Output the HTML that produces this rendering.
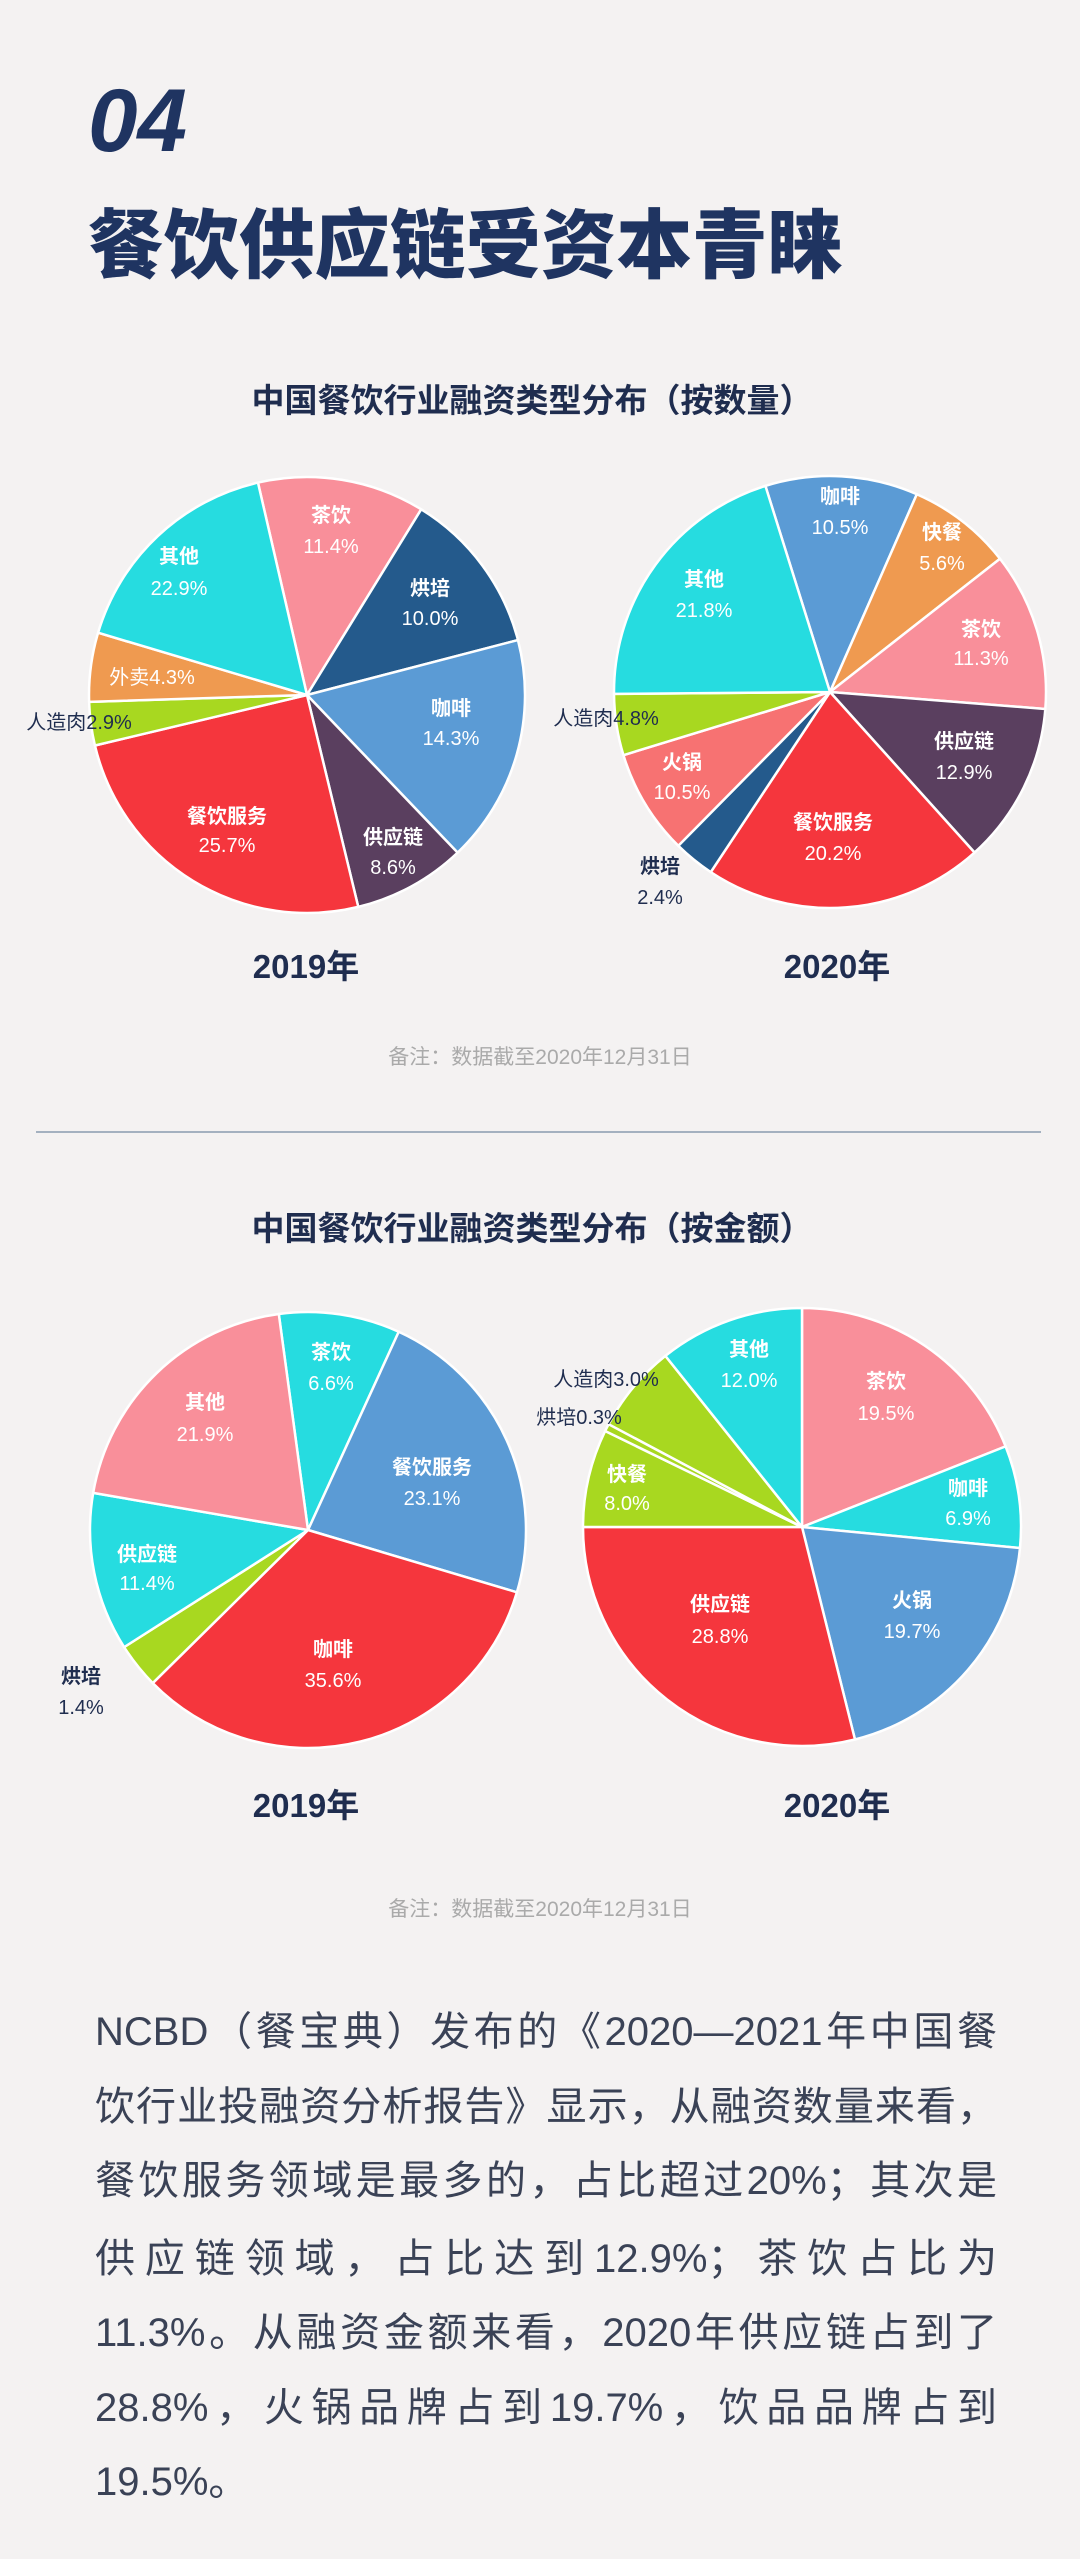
<!DOCTYPE html>
<html><head><meta charset="utf-8"><style>
html,body{margin:0;padding:0;background:#f4f2f2;}
body{width:1080px;height:2559px;position:relative;overflow:hidden;font-family:"Liberation Sans","Noto Sans CJK SC",sans-serif;}
.abs{position:absolute;}
.p{position:absolute;left:95px;width:902px;font-size:40px;color:#3a4256;text-align:justify;text-align-last:justify;white-space:nowrap;line-height:50px;}
</style></head><body>
<div class="abs" style="left:88px;top:72px;font-size:89px;font-weight:bold;font-style:italic;color:#1f3461;line-height:96px;">04</div>
<div class="abs" style="left:88px;top:200px;font-size:75.5px;font-weight:900;color:#1f3461;line-height:92px;white-space:nowrap;">餐饮供应链受资本青睐</div>
<svg class="abs" style="left:0;top:0" width="1080" height="2559" id="svg" font-family="Liberation Sans, Noto Sans CJK SC, sans-serif">
<g id="pies"></g>
<g font-weight="bold" fill="#1f2d4f" text-anchor="middle">
<text x="532" y="412" font-size="33">中国餐饮行业融资类型分布（按数量）</text>
<text x="532" y="1240" font-size="33">中国餐饮行业融资类型分布（按金额）</text>
<text x="306" y="978" font-size="33">2019年</text>
<text x="837" y="978" font-size="33">2020年</text>
<text x="306" y="1817" font-size="33">2019年</text>
<text x="837" y="1817" font-size="33">2020年</text>
</g>
<g fill="#aaaaaa" font-size="21" text-anchor="middle">
<text x="540" y="1064">备注：数据截至2020年12月31日</text>
<text x="540" y="1916">备注：数据截至2020年12月31日</text>
</g>
<line x1="36" y1="1132" x2="1041" y2="1132" stroke="#8a9bb0" stroke-width="1.5"/>
<g id="labels" font-size="20" text-anchor="middle" dominant-baseline="central"></g>
</svg>
<div class="p" style="top:2007px">NCBD（餐宝典）发布的《2020—2021年中国餐</div>
<div class="p" style="top:2082px">饮行业投融资分析报告》显示，从融资数量来看，</div>
<div class="p" style="top:2156px">餐饮服务领域是最多的，占比超过20%；其次是</div>
<div class="p" style="top:2234px">供应链领域，占比达到12.9%；茶饮占比为</div>
<div class="p" style="top:2308px">11.3%。从融资金额来看，2020年供应链占到了</div>
<div class="p" style="top:2383px">28.8%，火锅品牌占到19.7%，饮品品牌占到</div>
<div class="p" style="top:2457px;text-align-last:left">19.5%。</div>
<script>
var C={pink:"#f98f9a",dblue:"#245a8c",blue:"#5b9bd5",purple:"#5a3f5f",red:"#f5363d",green:"#a8d820",orange:"#ef9a50",cyan:"#26dce0",salmon:"#f77272"};
// data: [endAngle,color]
function pie(cx,cy,r,start,data){
  var a=start,s="";
  data.forEach(function(d){
    var b=d[0];
    var r1=(a-90)*Math.PI/180,r2=(b-90)*Math.PI/180;
    var x1=cx+r*Math.cos(r1),y1=cy+r*Math.sin(r1),x2=cx+r*Math.cos(r2),y2=cy+r*Math.sin(r2);
    s+='<path d="M'+cx+','+cy+' L'+x1.toFixed(2)+','+y1.toFixed(2)+' A'+r+','+r+' 0 '+((b-a)>180?1:0)+' 1 '+x2.toFixed(2)+','+y2.toFixed(2)+' Z" fill="'+C[d[1]]+'" stroke="#fff" stroke-width="2.5" stroke-linejoin="round"/>';
    a=b;
  });
  return s;
}
var g="";
g+=pie(307,695,218,-13,[[31.6,"pink"],[75.4,"dblue"],[136.3,"blue"],[166.4,"purple"],[256.6,"red"],[268.2,"green"],[286.6,"orange"],[347,"cyan"]]);
g+=pie(830,692,216,-17.4,[[23.7,"blue"],[51.9,"orange"],[94.5,"pink"],[138,"purple"],[213.5,"red"],[224.6,"dblue"],[253,"salmon"],[269.5,"green"],[342.6,"cyan"]]);
g+=pie(308,1530,218,-7.7,[[24.6,"cyan"],[106.6,"blue"],[225.4,"red"],[237.5,"green"],[279.8,"cyan"],[352.3,"pink"]]);
g+=pie(802,1527,219,0,[[68.4,"pink"],[95.5,"cyan"],[166,"blue"],[270,"red"],[296,"green"],[298,"green"],[321.4,"green"],[360,"cyan"]]);
document.getElementById("pies").innerHTML=g;
var W="#ffffff",D="#1f2d4f";
var L=[
[331,516,"茶饮",W],[331,547,"11.4%",W],[179,557,"其他",W],[179,589,"22.9%",W],[430,589,"烘培",W],[430,619,"10.0%",W],
[451,709,"咖啡",W],[451,739,"14.3%",W],[152,678,"外卖4.3%",W],[79,723,"人造肉2.9%",D],[227,817,"餐饮服务",W],[227,846,"25.7%",W],
[393,838,"供应链",W],[393,868,"8.6%",W],
[840,497,"咖啡",W],[840,528,"10.5%",W],[942,533,"快餐",W],[942,564,"5.6%",W],[704,580,"其他",W],[704,611,"21.8%",W],
[981,630,"茶饮",W],[981,659,"11.3%",W],[606,719,"人造肉4.8%",D],[964,742,"供应链",W],[964,773,"12.9%",W],
[682,763,"火锅",W],[682,793,"10.5%",W],[833,823,"餐饮服务",W],[833,854,"20.2%",W],[660,867,"烘培",D],[660,898,"2.4%",D],
[331,1353,"茶饮",W],[331,1384,"6.6%",W],[205,1403,"其他",W],[205,1435,"21.9%",W],[432,1468,"餐饮服务",W],[432,1499,"23.1%",W],
[147,1555,"供应链",W],[147,1584,"11.4%",W],[333,1650,"咖啡",W],[333,1681,"35.6%",W],[81,1677,"烘培",D],[81,1708,"1.4%",D],
[749,1350,"其他",W],[749,1381,"12.0%",W],[606,1380,"人造肉3.0%",D],[579,1418,"烘培0.3%",D],[627,1475,"快餐",W],[627,1504,"8.0%",W],
[886,1382,"茶饮",W],[886,1414,"19.5%",W],[968,1489,"咖啡",W],[968,1519,"6.9%",W],[912,1601,"火锅",W],[912,1632,"19.7%",W],
[720,1605,"供应链",W],[720,1637,"28.8%",W]
];
var t="";
L.forEach(function(l){var b=/[\u4e00-\u9fff]/.test(l[2])&&l[2].indexOf("%")<0;t+='<text x="'+l[0]+'" y="'+l[1]+'" fill="'+l[3]+'"'+(b?' font-weight="bold"':'')+'>'+l[2]+'</text>';});
document.getElementById("labels").innerHTML=t;
</script>
</body></html>
